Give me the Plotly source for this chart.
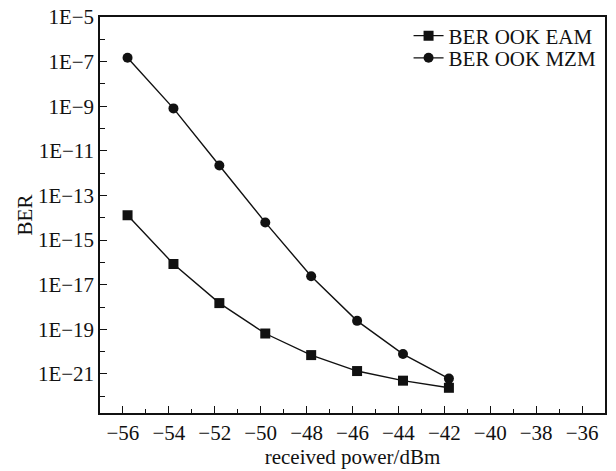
import plotly.graph_objects as go

x_power = [-55.8, -53.8, -51.8, -49.8, -47.8, -45.8, -43.8, -41.8]
ber_eam = [1.3e-14, 8.5e-17, 1.5e-18, 6.5e-20, 7.0e-21, 1.35e-21, 5.0e-22, 2.4e-22]
ber_mzm = [1.5e-7, 8.0e-10, 2.2e-12, 6.2e-15, 2.4e-17, 2.4e-19, 7.8e-21, 6.2e-22]

y_tickvals = [1e-5, 1e-7, 1e-9, 1e-11, 1e-13, 1e-15, 1e-17, 1e-19, 1e-21]
y_ticktext = ["1E\u22125", "1E\u22127", "1E\u22129", "1E\u221211", "1E\u221213",
              "1E\u221215", "1E\u221217", "1E\u221219", "1E\u221221"]
y_minorvals = [1e-6, 1e-8, 1e-10, 1e-12, 1e-14, 1e-16, 1e-18, 1e-20, 1e-22]
x_tickvals = [-56, -54, -52, -50, -48, -46, -44, -42, -40, -38, -36]
x_ticktext = ["\u221256", "\u221254", "\u221252", "\u221250", "\u221248", "\u221246",
              "\u221244", "\u221242", "\u221240", "\u221238", "\u221236"]

FONT = "Liberation Serif"
INK = "#111111"

fig = go.Figure()
fig.add_trace(go.Scatter(
    x=x_power, y=ber_eam, mode="lines+markers", name="BER OOK EAM",
    line=dict(color=INK, width=1.4),
    marker=dict(symbol="square", size=10, color=INK),
    legend="legend",
))
fig.add_trace(go.Scatter(
    x=x_power, y=ber_mzm, mode="lines+markers", name="BER OOK MZM",
    line=dict(color=INK, width=1.4),
    marker=dict(symbol="circle", size=10, color=INK),
    legend="legend2",
))

leg_common = dict(xanchor="left", yanchor="middle", bgcolor="rgba(0,0,0,0)",
                  borderwidth=0, font=dict(family=FONT, size=21, color=INK))

fig.update_layout(
    width=616, height=471,
    margin=dict(l=100, r=11, t=17, b=58),
    paper_bgcolor="white", plot_bgcolor="white",
    font=dict(family=FONT, size=21, color=INK),
    showlegend=True,
    legend=dict(x=0.611, y=0.952, **leg_common),
    legend2=dict(x=0.611, y=0.896, **leg_common),
    xaxis=dict(
        range=[-57, -35], tickmode="array", tickvals=x_tickvals, ticktext=x_ticktext,
        ticks="inside", ticklen=7, tickwidth=1.3, tickcolor=INK,
        showline=True, linecolor=INK, linewidth=1.5, mirror=True,
        showgrid=False, zeroline=False, automargin=False,
        minor=dict(dtick=1, ticks="inside", ticklen=4, tickwidth=1.3, tickcolor=INK, showgrid=False),
        title=dict(text="received power/dBm", font=dict(family=FONT, size=21), standoff=0),
        tickfont=dict(family=FONT, size=21),
    ),
    yaxis=dict(
        type="log", range=[-22.75, -5], tickmode="array",
        tickvals=y_tickvals, ticktext=y_ticktext,
        ticks="inside", ticklen=7, tickwidth=1.3, tickcolor=INK,
        showline=True, linecolor=INK, linewidth=1.5, mirror=True,
        showgrid=False, zeroline=False, automargin=False,
        minor=dict(tickmode="array", tickvals=y_minorvals, ticks="inside", ticklen=5,
                   tickwidth=1.3, tickcolor=INK, showgrid=False),
        title=dict(text="BER", font=dict(family=FONT, size=21), standoff=0),
        tickfont=dict(family=FONT, size=21),
    ),
)

fig.write_html("out.html", config={"displayModeBar": False},
               post_script="document.body.style.margin='0';document.body.style.overflow='hidden';")
